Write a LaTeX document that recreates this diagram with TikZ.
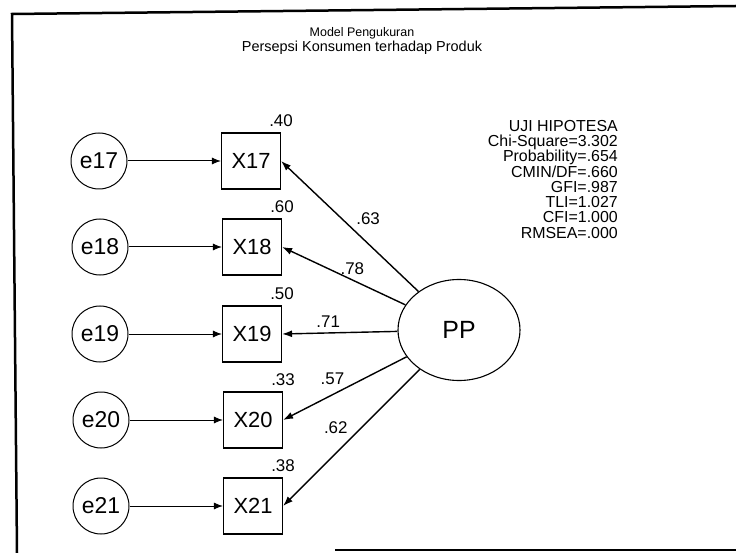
\documentclass[tikz,border=0pt]{standalone}
\usepackage{fontspec}
\setmainfont{Liberation Sans}
\usetikzlibrary{arrows.meta,shapes.geometric,positioning}

\tikzset{
  errvar/.style={circle,draw,line width=1bp,minimum size=56bp,inner sep=0pt,
    font=\fontsize{23}{25}\selectfont},
  indicator/.style={rectangle,draw,line width=1.1bp,minimum width=59bp,
    minimum height=56bp,inner sep=0pt,font=\fontsize{22}{24}\selectfont},
  construct/.style={ellipse,draw,line width=1.1bp,minimum width=122bp,
    minimum height=101bp,inner sep=0pt,font=\fontsize{25}{27}\selectfont},
  coef/.style={inner sep=1bp,font=\fontsize{17}{19}\selectfont},
  errpath/.style={-{Latex[length=9bp,width=7bp]},line width=1bp},
  loadpath/.style={-{Latex[length=10bp,width=7bp]},line width=1.4bp}
}

\begin{document}
\begin{tikzpicture}[x=1bp,y=-1bp,>=Latex]
  \useasboundingbox (0,0) rectangle (736,553);
  \draw[line width=2.5bp] (17,553) -- (12,14) -- (736,6);
  \draw[line width=2.5bp] (335,550) -- (736,550);

  \node[anchor=north,align=center,inner sep=0pt,font=\fontsize{14}{15}\selectfont]
    (title) at (362,27)
    {{\fontsize{12.5}{15}\selectfont Model Pengukuran}\\
     {\fontsize{14.5}{15}\selectfont Persepsi Konsumen terhadap Produk}};

  \node[anchor=north east,align=right,inner sep=0pt,
    font=\fontsize{16}{15.3}\selectfont] (fit) at (618,120)
    {UJI HIPOTESA\\Chi-Square=3.302\\Probability=.654\\CMIN/DF=.660\\
     GFI=.987\\TLI=1.027\\CFI=1.000\\RMSEA=.000};

  \node[construct] (PP) at (459,330) {PP};

  \node[indicator] (X17) at (251,161) {X17};
  \node[indicator] (X18) at (252,247) {X18};
  \node[indicator] (X19) at (252,334) {X19};
  \node[indicator] (X20) at (253,420) {X20};
  \node[indicator] (X21) at (253,506) {X21};

  \node[errvar] (e17) at (99,161) {e17};
  \node[errvar] (e18) at (100,247) {e18};
  \node[errvar] (e19) at (100,334) {e19};
  \node[errvar] (e20) at (101,420) {e20};
  \node[errvar] (e21) at (101,506) {e21};

  \node[coef,above=5bp of X17.north east] (r17) {.40};
  \node[coef,above=5bp of X18.north east] (r18) {.60};
  \node[coef,above=5bp of X19.north east] (r19) {.50};
  \node[coef,above=5bp of X20.north east] (r20) {.33};
  \node[coef,above=5bp of X21.north east] (r21) {.38};

  \draw[errpath] (e17) -- (X17);
  \draw[errpath] (e18) -- (X18);
  \draw[errpath] (e19) -- (X19);
  \draw[errpath] (e20) -- (X20);
  \draw[errpath] (e21) -- (X21);

  \draw[loadpath] (PP) -- node[coef,pos=.48,above right=3bp] (l17) {.63} (X17.east);
  \draw[loadpath] (PP) -- node[coef,pos=.43,above=4bp] (l18) {.78} (X18.east);
  \draw[loadpath] (PP) -- node[coef,pos=.6,above=4bp] (l19) {.71} (X19.east);
  \draw[loadpath] (PP) -- node[coef,pos=.6,above=8bp] (l20) {.57} (X20.east);
  \draw[loadpath] (PP) -- node[coef,pos=.5,above left=3bp] (l21) {.62} (X21.east);
\end{tikzpicture}
\end{document}
